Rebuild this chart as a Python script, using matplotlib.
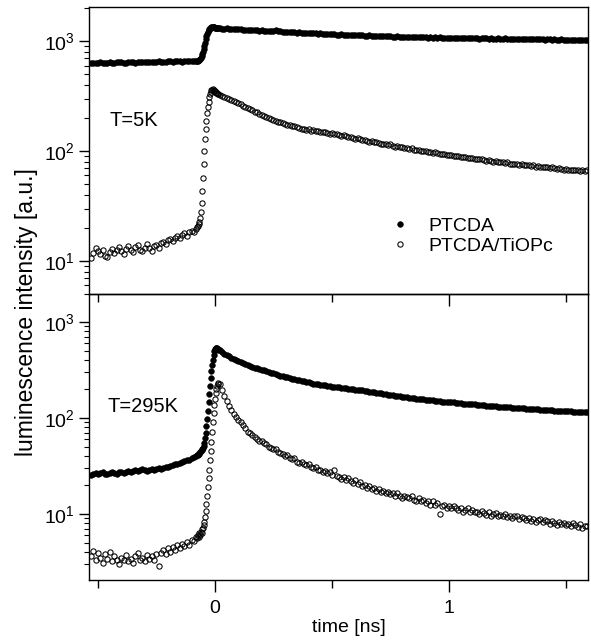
import numpy as np
import matplotlib
matplotlib.use("Agg")
import matplotlib.pyplot as plt
from matplotlib.ticker import FixedLocator, NullFormatter

plt.rcParams["font.family"] = "Liberation Sans"
plt.rcParams["mathtext.fontset"] = "custom"
plt.rcParams["mathtext.rm"] = "Liberation Sans"
plt.rcParams["mathtext.it"] = "Liberation Sans:italic"
plt.rcParams["mathtext.bf"] = "Liberation Sans:bold"

# time axis [ns]: 10 ps steps before / after the pulse, 3 ps steps across the rise
t_pre = np.round(np.arange(-0.53, -0.075, 0.01), 3)
t_rise = np.round(np.arange(-0.075, 0.0165, 0.003), 3)
t_post = np.round(np.arange(0.02, 1.595, 0.01), 3)
time = np.concatenate([t_pre, t_rise, t_post])

# ---- T = 5 K ----
ptcda_5k = [
    # pre
    635, 640, 632, 638, 642, 636, 630, 638, 645, 640,
    636, 642, 648, 644, 638, 641, 646, 650, 644, 640,
    645, 652, 648, 642, 646, 654, 650, 645, 650, 656,
    652, 648, 653, 658, 655, 650, 656, 662, 658, 654,
    660, 665, 660, 656, 662, 668,
    # rise
    665, 668, 672, 680, 692, 710, 735, 765, 800, 850,
    910, 975, 1040, 1110, 1170, 1225, 1270, 1300, 1320, 1335,
    1340, 1345, 1340, 1342, 1338, 1335, 1332, 1330, 1328, 1325, 1322,
    # decay
    1312, 1305, 1300, 1308, 1296, 1290, 1298, 1288, 1282, 1286,
    1278, 1270, 1280, 1266, 1262, 1270, 1258, 1252, 1262, 1250,
    1244, 1252, 1240, 1236, 1262, 1248, 1232, 1226, 1218, 1222,
    1212, 1220, 1206, 1200, 1210, 1196, 1190, 1198, 1186, 1182,
    1190, 1178, 1172, 1182, 1168, 1164, 1172, 1160, 1156, 1162,
    1152, 1148, 1158, 1144, 1140, 1150, 1138, 1134, 1142, 1136,
    1130, 1138, 1126, 1122, 1132, 1120, 1116, 1124, 1118, 1112,
    1120, 1110, 1106, 1114, 1104, 1100, 1112, 1102, 1096, 1104,
    1098, 1092, 1100, 1090, 1086, 1096, 1088, 1084, 1092, 1082,
    1088, 1080, 1086, 1078, 1084, 1076, 1082, 1074, 1080, 1072,
    1078, 1070, 1076, 1068, 1074, 1066, 1072, 1064, 1070, 1062,
    1068, 1060, 1066, 1072, 1062, 1058, 1066, 1060, 1056, 1064,
    1058, 1054, 1062, 1052, 1058, 1050, 1056, 1048, 1054, 1050,
    1046, 1052, 1044, 1050, 1042, 1048, 1040, 1046, 1042, 1038,
    1044, 1040, 1036, 1042, 1038, 1034, 1040, 1036, 1032, 1038,
    1034, 1030, 1036, 1032, 1028, 1034, 1030, 1032,
]
tiopc_5k = [
    # pre
    10.6, 11.8, 13.2, 12.4, 11.5, 12.6, 11.2, 10.8, 12.0, 12.8,
    11.9, 12.5, 13.4, 12.2, 11.6, 12.9, 13.6, 12.7, 12.0, 13.3,
    14.0, 12.6, 12.3, 13.1, 14.2, 13.0, 12.4, 13.6, 14.1, 13.2,
    14.6, 15.0, 14.3, 15.4, 16.0, 15.2, 16.3, 16.9, 16.1, 17.2,
    17.8, 17.0, 18.2, 18.9, 18.4, 19.6,
    # rise
    20.2, 20.8, 21.5, 22.5, 24.5, 28, 34, 43, 57, 76,
    100, 128, 158, 190, 222, 252, 282, 308, 330, 346,
    357, 363, 366, 362, 356, 350, 344, 340, 336, 332, 328,
    # decay
    326, 318, 310, 304, 296, 292, 284, 278, 272, 266,
    260, 252, 248, 240, 236, 228, 226, 218, 214, 208,
    206, 200, 198, 192, 190, 186, 184, 180, 176, 174,
    174, 170, 168, 166, 164, 160, 160, 156, 158, 154,
    156, 152, 154, 150, 148, 150, 146, 144, 146, 142,
    142, 140, 138, 140, 136, 134, 135, 132, 130, 131,
    128, 126, 127, 124, 122, 123, 120, 121, 118, 117,
    117, 115, 114, 115, 112, 110, 111, 109, 108, 107,
    106, 105, 106, 103, 102, 103, 101, 100, 101, 99,
    98, 97, 98, 96, 95, 94, 95, 93, 92, 92,
    91, 90, 91, 89, 88, 89, 87, 86, 87, 85,
    85, 84, 84, 83, 82, 83, 81, 80, 81, 80,
    79, 79, 78, 79, 77, 76, 77, 76, 75, 76,
    75, 74, 74, 73, 74, 72, 73, 72, 71, 72,
    71, 70, 71, 70, 69, 70, 69, 68, 69, 68,
    68, 67, 68, 67, 66, 67, 66, 67,
]

# ---- T = 295 K ----
ptcda_295k = [
    # pre
    25.2, 25.8, 26.4, 25.9, 26.6, 27.1, 26.3, 26.0, 26.8, 27.4,
    26.7, 26.2, 27.0, 27.6, 26.9, 27.3, 28.0, 27.5, 28.3, 28.8,
    28.1, 28.6, 29.2, 28.4, 28.0, 28.7, 29.3, 28.9, 29.6, 30.2,
    29.7, 30.4, 31.0, 30.6, 31.5, 32.1, 32.8, 33.2, 34.0, 34.6,
    35.3, 36.2, 36.8, 37.9, 39.0, 40.2,
    # rise
    40.8, 41.5, 42.2, 43.0, 44.0, 45.0, 46.2, 47.5, 49, 51,
    55, 61, 70, 82, 98, 118, 145, 178, 215, 258,
    305, 355, 405, 455, 495, 520, 532, 535, 530, 522, 512,
    # decay
    505, 485, 468, 450, 436, 420, 408, 398, 388, 380,
    370, 362, 354, 348, 340, 334, 330, 322, 316, 312,
    306, 300, 296, 290, 286, 282, 276, 272, 268, 264,
    260, 256, 252, 250, 246, 244, 240, 236, 234, 232,
    228, 226, 224, 222, 220, 218, 216, 214, 212, 211,
    210, 208, 206, 204, 203, 201, 200, 198, 197, 196,
    195, 193, 191, 189, 188, 186, 184, 183, 181, 180,
    178, 177, 175, 174, 172, 170, 169, 168, 167, 166,
    164, 163, 162, 160, 159, 158, 157, 156, 155, 154,
    153, 152, 151, 150, 149, 148, 148, 147, 146, 145,
    145, 144, 143, 142, 141, 141, 140, 139, 138, 138,
    137, 136, 136, 135, 134, 134, 133, 133, 132, 131,
    131, 130, 130, 129, 129, 128, 128, 127, 127, 126,
    126, 125, 125, 124, 124, 123, 123, 122, 122, 121,
    121, 120, 120, 119, 119, 118, 118, 118, 117, 117,
    117, 116, 116, 116, 115, 115, 115, 115,
]
tiopc_295k = [
    # pre
    3.6, 4.1, 3.3, 3.9, 3.5, 3.1, 3.8, 3.4, 4.0, 3.2,
    3.6, 3.3, 3.0, 3.5, 3.3, 3.7, 3.2, 3.4, 3.1, 3.6,
    3.9, 3.3, 3.5, 3.2, 3.7, 3.4, 3.6, 3.3, 3.8, 2.9,
    3.9, 4.2, 3.8, 4.4, 4.0, 4.5, 4.2, 4.7, 4.4, 4.9,
    4.6, 5.1, 4.8, 5.4, 5.2, 5.8,
    # rise
    5.6, 6.1, 5.8, 6.3, 6.0, 6.5, 6.4, 6.9, 7.2, 7.6,
    8.2, 9.2, 10.8, 12.8, 15.5, 19, 23.5, 29, 36, 45,
    56, 72, 90, 112, 135, 158, 180, 200, 215, 226, 230,
    # decay
    224, 196, 170, 150, 134, 121, 110, 102, 95, 90,
    84, 79, 72, 70, 66, 63, 60, 58, 57, 55,
    54, 50, 49, 47, 47, 44, 43, 42, 40, 41,
    38, 37, 38, 35, 34, 35, 33, 32, 33, 31,
    30, 31, 28.5, 29, 27.5, 28, 26.5, 27, 25.5, 28.5,
    25, 24.5, 23, 24, 22.5, 23.5, 22, 21, 22.5, 20.5,
    21.5, 19.5, 20, 18.5, 19.5, 18, 18.5, 17.5, 18, 17,
    17.5, 16.5, 17, 16, 16.5, 15.5, 16.5, 15.5, 14.5, 15.5,
    15, 14.5, 15.5, 14, 13.5, 14.5, 13.5, 14, 13, 13.5,
    12.5, 13.5, 12.5, 13, 10.0, 12, 12.5, 11.5, 12, 11.5,
    12, 11.5, 11, 11.5, 10.5, 11, 11.5, 10.5, 11, 10.5,
    10.5, 10, 10.8, 10.2, 9.8, 10.4, 9.6, 10, 10.2, 9.6,
    9.8, 9.4, 9.9, 9.2, 9.6, 9.0, 9.4, 9.5, 8.9, 9.2,
    9.0, 8.6, 9.1, 8.5, 8.8, 8.3, 8.7, 8.9, 8.2, 8.6,
    8.4, 7.9, 8.5, 8.0, 7.7, 8.2, 7.8, 8.1, 7.6, 7.9,
    7.5, 8.0, 7.6, 7.3, 7.8, 7.2, 7.5, 7.4,
]

labels = ["PTCDA", "PTCDA/TiOPc"]
temps = ["T=5K", "T=295K"]

fig = plt.figure(figsize=(5.91, 6.41), dpi=100)
ax1 = fig.add_axes([0.1506, 0.5413, 0.8443, 0.4477])
ax2 = fig.add_axes([0.1506, 0.0952, 0.8443, 0.4461])
ax2.set_facecolor("none")

panels = [(ax1, ptcda_5k, tiopc_5k, (5, 2050)),
          (ax2, ptcda_295k, tiopc_295k, (2.05, 1950))]

for ax, filled, hollow, ylim in panels:
    ax.plot(time, filled, "o", ms=4.1, mfc="black", mec="black", mew=0.4,
            label=labels[0])
    ax.plot(time, hollow, "o", ms=3.8, mfc="none", mec="black", mew=0.75,
            label=labels[1])
    ax.set_yscale("log")
    ax.set_ylim(*ylim)
    ax.set_xlim(-0.538, 1.594)
    ax.xaxis.set_major_locator(FixedLocator([0, 1]))
    ax.xaxis.set_minor_locator(FixedLocator([-0.5, 0.5, 1.5]))
    ax.yaxis.set_minor_formatter(NullFormatter())
    ax.tick_params(axis="x", which="major", direction="out", length=8.5,
                   width=1, pad=6, labelsize=14, top=False)
    ax.tick_params(axis="x", which="minor", direction="out", length=6,
                   width=1, top=False)
    ax.tick_params(axis="y", which="major", direction="out", length=7,
                   width=1, pad=3, labelsize=14, right=False)
    ax.tick_params(axis="y", which="minor", direction="out", length=3.6,
                   width=0.8, right=False)
    for sp in ax.spines.values():
        sp.set_linewidth(1.0)

ax1.tick_params(labelbottom=False)

ax1.text(0.042, 0.585, temps[0], transform=ax1.transAxes, fontsize=14.5,
         va="baseline")
ax2.text(0.038, 0.587, temps[1], transform=ax2.transAxes, fontsize=14.5,
         va="baseline")

ax1.legend(loc="center left", bbox_to_anchor=(0.603, 0.202), frameon=False,
           fontsize=14, handlelength=1.0, handletextpad=1.0,
           labelspacing=0.15, borderpad=0, borderaxespad=0)

fig.text(349 / 591, 1 - 628 / 641, "time [ns]", ha="center", va="center",
         fontsize=14)
fig.text(27 / 591, 1 - 312 / 641, "luminescence intensity [a.u.]",
         rotation=90, ha="center", va="center", fontsize=16.5)

fig.savefig("out.png", dpi=100)
